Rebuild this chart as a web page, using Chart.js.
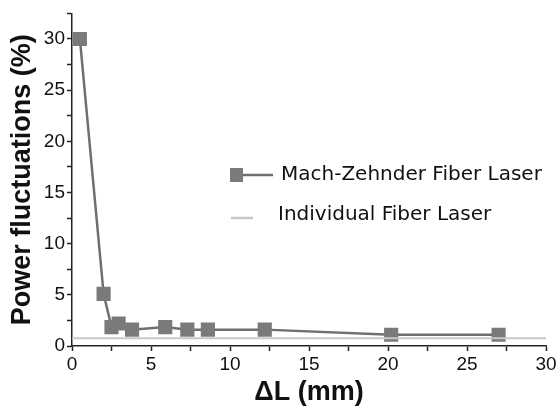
<!DOCTYPE html>
<html>
<head>
<meta charset="utf-8">
<script src="https://cdn.jsdelivr.net/npm/chart.js@4"></script>
<style>
  html, body { margin: 0; padding: 0; background: #fff; }
  #wrap { width: 559px; height: 413px; }
</style>
</head>
<body>
<div id="wrap"><canvas id="chart" width="559" height="413"></canvas></div>
<script>
// values
const MZ_X = [0.5, 2.0, 2.5, 2.95, 3.8, 5.9, 7.3, 8.6, 12.2, 20.2, 27.0]
const MZ_Y = [30.0, 5.1, 1.85, 2.2, 1.6, 1.85, 1.6, 1.6, 1.6, 1.1, 1.1]
const IND_X = [0, 30]
const IND_Y = [0.75, 0.75]

const LABEL_MZ = 'Mach-Zehnder Fiber Laser'
const LABEL_IND = 'Individual Fiber Laser'

const DARK = '#6f6f6f'
const LIGHT = '#c8c8c8'

const toPoints = (xs, ys) => xs.map((x, i) => ({x, y: ys[i]}))

// legend sits inside the plot, drawn by hand
const insideLegend = {
  id: 'insideLegend',
  afterDraw (chart) {
    const ctx = chart.ctx
    ctx.save()
    ctx.font = '20px "DejaVu Sans", sans-serif'
    ctx.textBaseline = 'middle'

    // row 1
    ctx.strokeStyle = DARK
    ctx.lineWidth = 2.5
    ctx.beginPath()
    ctx.moveTo(232, 175)
    ctx.lineTo(273, 175)
    ctx.stroke()
    ctx.fillStyle = '#7a7a7a'
    ctx.fillRect(230, 168, 13, 14)
    ctx.fillStyle = '#111'
    ctx.fillText(LABEL_MZ, 281, 175)

    // row 2
    ctx.strokeStyle = LIGHT
    ctx.lineWidth = 2.5
    ctx.beginPath()
    ctx.moveTo(231, 218)
    ctx.lineTo(253, 218)
    ctx.stroke()
    ctx.fillText(LABEL_IND, 278, 215)
    ctx.restore()
  }
}

const tickCfg = (showEvery) => ({
  color: '#111',
  font: {family: '"Liberation Sans", Arial, sans-serif', size: 19},
  stepSize: 2.5,
  autoSkip: false,
  maxRotation: 0,
  padding: 2,
  callback: (v) => (Math.abs(v % showEvery) < 1e-6 ? v : '')
})

const titleFont = {family: '"Liberation Sans", Arial, sans-serif', size: 27, weight: 'bold'}

new Chart(document.getElementById('chart'), {
  type: 'scatter',
  data: {
    datasets: [
      {
        label: LABEL_IND,
        data: toPoints(IND_X, IND_Y),
        showLine: true,
        borderColor: LIGHT,
        borderWidth: 2,
        pointRadius: 0
      },
      {
        label: LABEL_MZ,
        data: toPoints(MZ_X, MZ_Y),
        showLine: true,
        borderColor: DARK,
        borderWidth: 2.5,
        pointStyle: 'rect',
        pointRadius: 10,
        pointBackgroundColor: '#7a7a7a',
        pointBorderColor: '#7a7a7a',
        pointBorderWidth: 0
      }
    ]
  },
  options: {
    responsive: false,
    animation: false,
    layout: {padding: {top: 6, right: 13, left: 0, bottom: 0}},
    plugins: {
      legend: {display: false},
      tooltip: {enabled: false}
    },
    scales: {
      x: {
        type: 'linear',
        min: 0,
        max: 30,
        afterFit: (s) => { s.height = 67 },
        ticks: tickCfg(5),
        grid: {drawOnChartArea: false, tickLength: 5, color: '#222', tickWidth: 1.5},
        border: {color: '#222', width: 1.5},
        title: {
          display: true,
          text: 'ΔL (mm)',
          color: '#111',
          font: titleFont,
          padding: {top: 0, bottom: 4}
        }
      },
      y: {
        min: 0,
        max: 32.5,
        afterFit: (s) => { s.width = 72 },
        ticks: tickCfg(5),
        grid: {drawOnChartArea: false, tickLength: 5, color: '#222', tickWidth: 1.5},
        border: {color: '#222', width: 1.5},
        title: {
          display: true,
          text: 'Power fluctuations (%)',
          color: '#111',
          font: titleFont,
          padding: {top: 6, bottom: 0}
        }
      }
    }
  },
  plugins: [insideLegend]
})
</script>
</body>
</html>
